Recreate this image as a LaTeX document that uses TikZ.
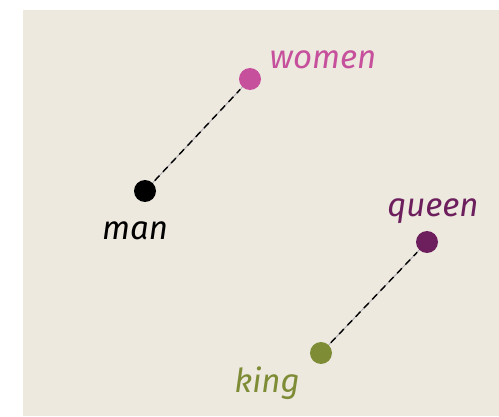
\documentclass[tikz,border=0pt]{standalone}
\usepackage{fontspec}
\setmainfont{Fira Sans}
\definecolor{bgc}{HTML}{EDE9DF}
\definecolor{pinkc}{HTML}{C6509C}
\definecolor{purpc}{HTML}{6D1F5D}
\definecolor{olivec}{HTML}{7F8C36}
\definecolor{linec}{HTML}{A9A6AE}
\begin{document}
\begin{tikzpicture}[x=1pt,y=1pt,
  dot/.style={circle,fill=#1,inner sep=0pt,minimum size=22pt},
  lbl/.style={font=\fontsize{33}{35}\selectfont\itshape,text=#1,inner sep=0pt},
  link/.style={draw=linec,line width=0.8pt},
  dashlink/.style={draw=black,line width=1.4pt,dash pattern=on 7pt off 5pt,shorten <=3pt,shorten >=3pt}]
\useasboundingbox (0,0) rectangle (499,416);
\fill[bgc] (23,0) rectangle (499,406);
\node[dot=black] (man) at (145,225) {};
\node[dot=pinkc] (women) at (250,337) {};
\node[dot=purpc] (queen) at (427,174) {};
\node[dot=olivec] (king) at (321,63) {};
\node[lbl=black] (manl) at (135,185) {man};
\node[lbl=pinkc] (womenl) at (323,356) {women};
\node[lbl=purpc] (queenl) at (433,205) {queen};
\node[lbl=olivec] (kingl) at (267,33) {king};
\draw[link] (man) -- (women);
\draw[dashlink] (man) -- (women);
\draw[link] (king) -- (queen);
\draw[dashlink] (king) -- (queen);
\end{tikzpicture}
\end{document}
